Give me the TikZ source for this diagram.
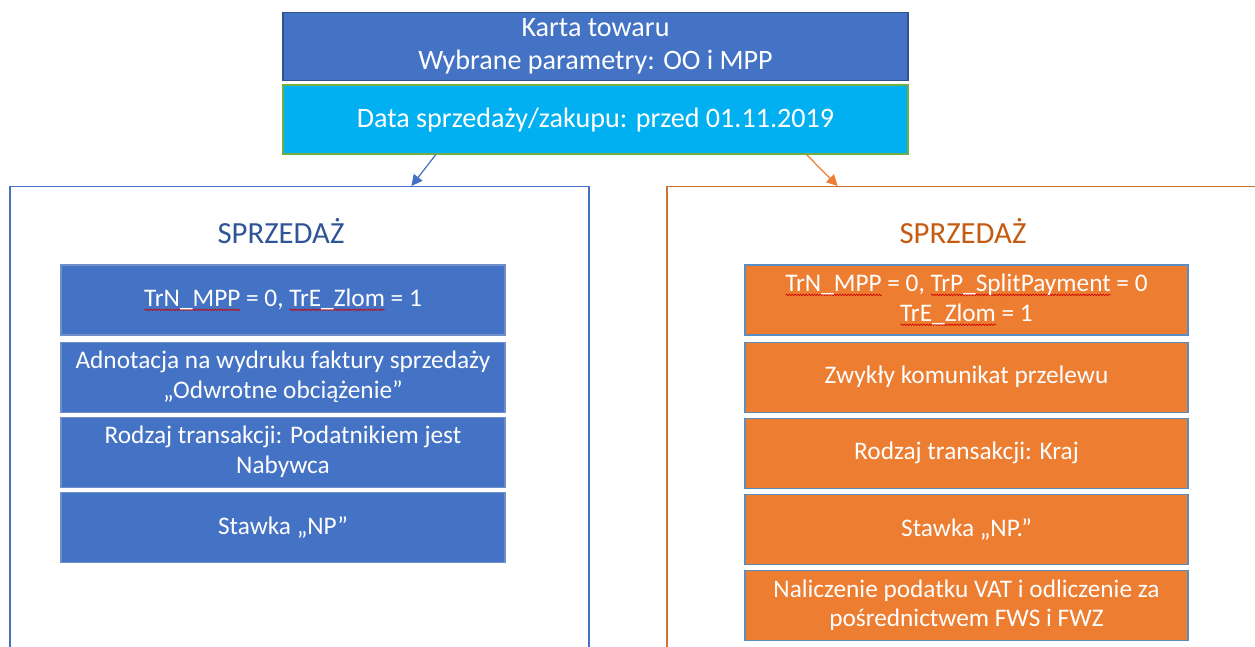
\documentclass[tikz,border=0pt]{standalone}
\usepackage{fontspec}
\setmainfont{Carlito}
\usetikzlibrary{arrows.meta,positioning,calc,decorations.pathmorphing}
\definecolor{KartaBlue}{HTML}{4472C4}
\definecolor{KartaDarkBlue}{HTML}{2F528F}
\definecolor{KartaCyan}{HTML}{00B0F0}
\definecolor{KartaGreen}{HTML}{70AD47}
\definecolor{KartaOrange}{HTML}{ED7D31}
\definecolor{KartaRust}{HTML}{C55A11}
\definecolor{KartaSteel}{HTML}{5B8CC0}
\definecolor{KartaHead}{HTML}{2F5597}
\definecolor{KartaEdge}{HTML}{6F8FCB}
\newlength{\spellwd}
\newcommand{\spell}[1]{\settowidth{\spellwd}{#1}\rlap{\tikz[baseline=0pt]\draw[red!80!black,fill=none,line width=0.35pt,decorate,decoration={snake,amplitude=0.45pt,segment length=1.6pt}] (0pt,-1.8pt) -- (\spellwd,-1.8pt);}#1}

\begin{document}
\begin{tikzpicture}[
    head/.style={minimum width=12.5cm,minimum height=1.36cm,inner sep=1pt,align=center,text=white,line width=0.6pt,font=\fontsize{16}{18.7}\selectfont},
    panel/.style={draw,line width=0.6pt,minimum height=10.5cm,anchor=north},
    title/.style={font=\fontsize{17.5}{21}\selectfont},
    itemL/.style={draw=KartaEdge,fill=KartaBlue,text=white,line width=0.6pt,minimum width=8.88cm,minimum height=1.4cm,inner sep=1pt,align=center,font=\fontsize{14.4}{17}\selectfont},
    itemR/.style={itemL,draw=KartaSteel,fill=KartaOrange,minimum width=8.86cm},
    arr/.style={-{Triangle[length=2.2mm,width=2.2mm]},line width=0.7pt}
  ]
    \path[use as bounding box,clip] (0,0) rectangle (25.1,-12.92);
    % naglowek
    \node[head,draw=KartaDarkBlue,fill=KartaBlue] (karta) at (11.91,-0.93) {Karta towaru\\Wybrane parametry: OO i MPP};
    \node[head,draw=KartaGreen,fill=KartaCyan,minimum height=1.38cm] (data) at (11.91,-2.39) {Data sprzedaży/zakupu: przed 01.11.2019};
    % panele
    \node[panel,draw=KartaBlue,minimum width=11.58cm] (leftPanel) at (5.99,-3.72) {};
    \node[panel,draw=KartaRust!85,minimum width=12.66cm] (rightPanel) at (19.67,-3.72) {};
    \node[title,text=KartaHead] (headL) at (5.62,-4.62) {SPRZEDAŻ};
    \node[title,text=KartaRust] (headR) at (19.26,-4.62) {SPRZEDAŻ};
    % lewa kolumna
    \node[itemL] (l1) at (5.66,-6.0) {\spell{TrN\_MPP} = 0, \spell{TrE\_Zlom} = 1};
    \node[itemL,below=0.12cm of l1] (l2) {Adnotacja na wydruku faktury sprzedaży\\„Odwrotne obciążenie”};
    \node[itemL,below=0.08cm of l2] (l3) {Rodzaj transakcji: Podatnikiem jest\\Nabywca};
    \node[itemL,below=0.08cm of l3] (l4) {Stawka „NP”};
    % prawa kolumna
    \node[itemR] (r1) at (19.33,-6.0) {\spell{TrN\_MPP} = 0, \spell{TrP\_SplitPayment} = 0\\\spell{TrE\_Zlom} = 1};
    \node[itemR,below=0.12cm of r1] (r2) {Zwykły komunikat przelewu};
    \node[itemR,below=0.1cm of r2] (r3) {Rodzaj transakcji: Kraj};
    \node[itemR,below=0.1cm of r3] (r4) {Stawka „NP.”};
    \node[itemR,below=0.1cm of r4] (r5) {Naliczenie podatku VAT i odliczenie za\\pośrednictwem FWS i FWZ};
    % strzalki
    \draw[arr,KartaBlue] ($(data.south west)!0.245!(data.south east)$) -- ($(leftPanel.north west)!0.693!(leftPanel.north east)$);
    \draw[arr,KartaOrange] ($(data.south west)!0.837!(data.south east)$) -- ($(rightPanel.north west)!0.27!(rightPanel.north east)$);
  \end{tikzpicture}
\end{document}
